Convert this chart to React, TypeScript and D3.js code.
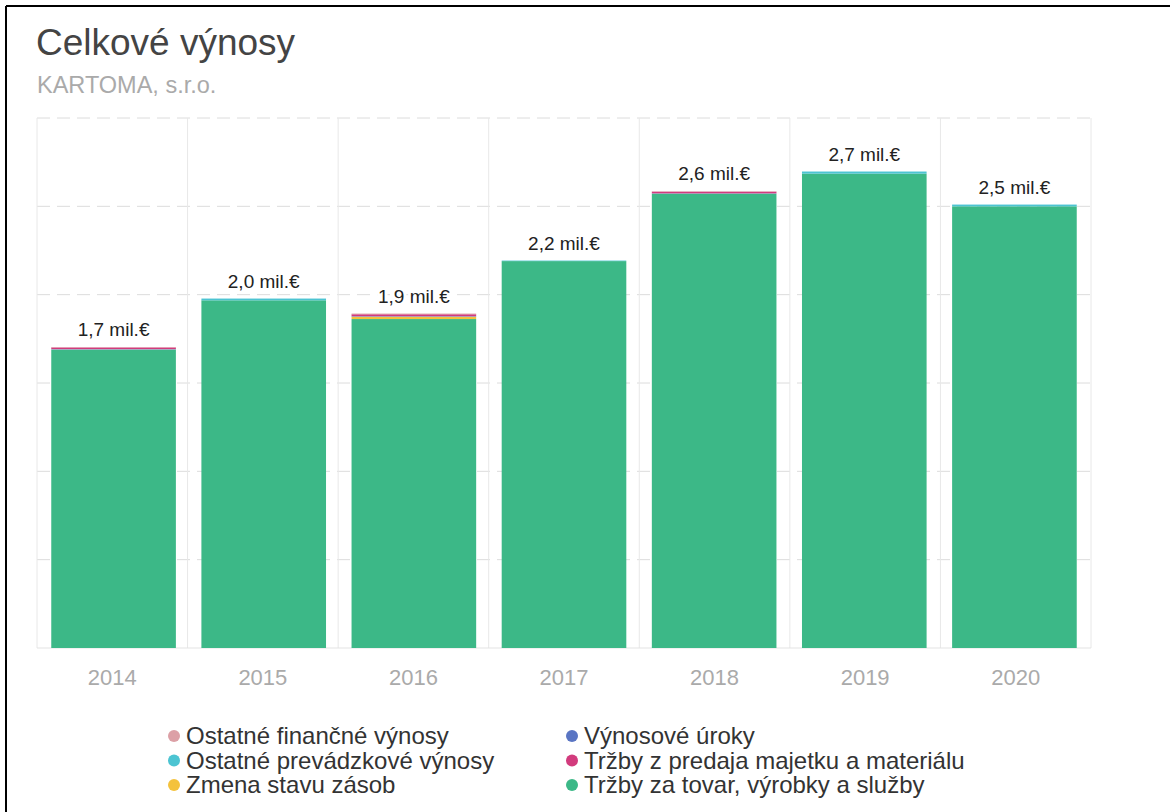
import React from "react";
import * as d3 from "d3";

const years = ["2014", "2015", "2016", "2017", "2018", "2019", "2020"];
const trzbyTovar = [1.688, 1.968, 1.862, 2.19, 2.57, 2.685, 2.5];
const zmenaZasob = [0, 0, 0.012, 0, 0, 0, 0];
const ostPrevadzkove = [0.003, 0.01, 0.003, 0.003, 0.003, 0.012, 0.01];
const trzbyMajetok = [0.01, 0, 0.012, 0, 0.01, 0, 0];
const vynosoveUroky = [0, 0, 0, 0, 0, 0, 0];
const ostFinancne = [0.002, 0, 0.004, 0, 0.002, 0, 0];
const totalLabels = ["1,7 mil.€", "2,0 mil.€", "1,9 mil.€", "2,2 mil.€", "2,6 mil.€", "2,7 mil.€", "2,5 mil.€"];
const yTicks = [0, 0.5, 1, 1.5, 2, 2.5, 3];

const seriesNames = [
  "Tržby za tovar, výrobky a služby",
  "Zmena stavu zásob",
  "Ostatné prevádzkové výnosy",
  "Tržby z predaja majetku a materiálu",
  "Výnosové úroky",
  "Ostatné finančné výnosy",
];
const seriesValues = [trzbyTovar, zmenaZasob, ostPrevadzkove, trzbyMajetok, vynosoveUroky, ostFinancne];
const seriesColors = ["#3cb887", "#f4c23c", "#4cc4d2", "#d23b7d", "#5a75c3", "#dca0a6"];

const legendOrder = [
  ["Ostatné finančné výnosy", "#dca0a6"],
  ["Ostatné prevádzkové výnosy", "#4cc4d2"],
  ["Zmena stavu zásob", "#f4c23c"],
  ["Výnosové úroky", "#5a75c3"],
  ["Tržby z predaja majetku a materiálu", "#d23b7d"],
  ["Tržby za tovar, výrobky a služby", "#3cb887"],
];

export default function App() {
  const W = 1170, H = 812;
  const left = 37, right = 1091, top = 118, bottom = 648;
  const font = "'Liberation Sans', Arial, sans-serif";

  const x = d3.scaleBand<string>().domain(years).range([left, right]).paddingInner(0.17).paddingOuter(0.095);
  const xCat = d3.scaleBand<string>().domain(years).range([left, right]);
  const y = d3.scaleLinear().domain([0, 3]).range([bottom, top]);

  const rows = years.map((yr, i) => {
    const r: any = { year: yr };
    seriesNames.forEach((n, k) => (r[n] = seriesValues[k][i]));
    return r;
  });
  const stacked = d3.stack<any>().keys(seriesNames)(rows);
  const totals = years.map((_, i) => seriesValues.reduce((s, a) => s + a[i], 0));

  return (
    <div style={{ position: "fixed", left: 0, top: 0 }}>
      <svg width={W} height={H} style={{ display: "block", background: "#fff", fontFamily: font }}>
        <line x1={6} y1={6} x2={W} y2={6} stroke="#000" strokeWidth={2} />
        <line x1={6} y1={6} x2={6} y2={H} stroke="#000" strokeWidth={2} />
        <text x={36} y={55} fontSize={37} fill="#444">Celkové výnosy</text>
        <text x={37} y={93} fontSize={23.5} fill="#aaa">KARTOMA, s.r.o.</text>

        {yTicks.map((t) =>
          t === 0 ? null : (
            <line key={t} x1={left} x2={right} y1={y(t)} y2={y(t)} stroke="#dcdcdc" strokeWidth={1} strokeDasharray="13,7" />
          )
        )}
        {[...years.map((yr) => xCat(yr)!), right].map((xv, i) => (
          <line key={i} x1={xv} x2={xv} y1={top} y2={bottom} stroke="#e8e8e8" strokeWidth={1} />
        ))}
        <line x1={left} x2={right} y1={bottom} y2={bottom} stroke="#e3e3e3" strokeWidth={1} />

        {stacked.map((layer, k) => (
          <g key={k} fill={seriesColors[k]}>
            {layer.map((d, i) => {
              const h = y(d[0]) - y(d[1]);
              if (h <= 0) return null;
              return <rect key={i} x={x(years[i])} y={y(d[1])} width={x.bandwidth()} height={h} />;
            })}
          </g>
        ))}

        {years.map((yr, i) => (
          <text
            key={yr}
            x={x(yr)! + x.bandwidth() / 2}
            y={y(totals[i]) - 11}
            textAnchor="middle"
            fontSize={19}
            fill="#222"
            stroke="#fff"
            strokeWidth={6}
            paintOrder="stroke"
            strokeLinejoin="round"
          >
            {totalLabels[i]}
          </text>
        ))}

        {years.map((yr) => (
          <text key={yr} x={xCat(yr)! + xCat.bandwidth() / 2} y={685} textAnchor="middle" fontSize={22} fill="#aaa">
            {yr}
          </text>
        ))}

        {legendOrder.map(([name, color], i) => {
          const col = Math.floor(i / 3);
          const row = i % 3;
          const lx = col === 0 ? 174 : 572;
          const ly = 736 + row * 24.5;
          return (
            <g key={name}>
              <circle cx={lx} cy={ly} r={6} fill={color} />
              <text x={lx + 12} y={ly + 8} fontSize={24} fill="#333">{name}</text>
            </g>
          );
        })}
      </svg>
    </div>
  );
}
